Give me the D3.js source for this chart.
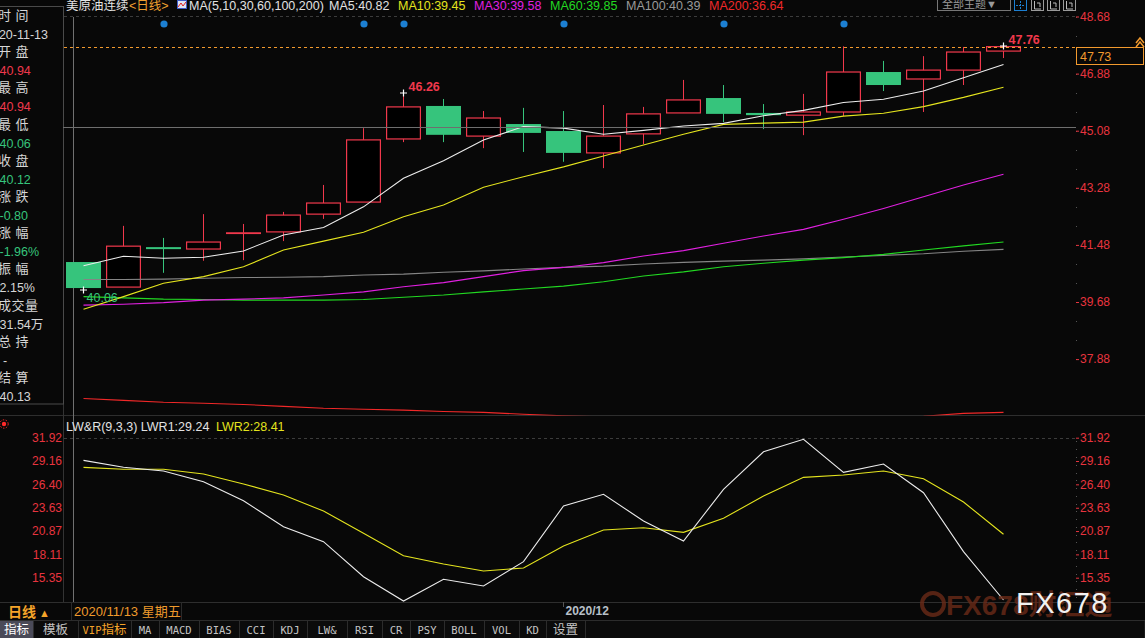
<!DOCTYPE html>
<html>
<head>
<meta charset="utf-8">
<script src="https://cdn.jsdelivr.net/npm/d3@7"></script>
<style>
body{margin:0;background:#080808;overflow:hidden}
svg{display:block;font-family:"Liberation Sans",Arial,"Noto Sans CJK SC",sans-serif}
</style>
</head>
<body>
<svg id="kline" width="1145" height="638"></svg>
<script>
// values (daily bars, 美原油连续)
const dates = ['2020-11-13','2020-11-16','2020-11-17','2020-11-18','2020-11-19','2020-11-20',
    '2020-11-23','2020-11-24','2020-11-25','2020-11-26','2020-11-27','2020-11-30',
    '2020-12-01','2020-12-02','2020-12-03','2020-12-04','2020-12-07','2020-12-08',
    '2020-12-09','2020-12-10','2020-12-11','2020-12-14','2020-12-15','2020-12-16'];
const openPrices  = [40.94,40.15,41.41,41.35,41.84,41.89,42.45,42.83,44.82,45.86,44.91,45.29,
    45.07,44.38,44.98,45.64,46.11,45.64,45.57,45.67,46.93,46.71,46.99,47.59];
const highPrices  = [40.94,42.08,41.70,42.45,42.14,42.52,43.37,45.16,46.26,46.08,45.70,45.80,
    45.70,45.89,45.83,46.68,46.52,45.92,46.24,47.74,47.28,47.43,47.72,47.76];
const lowPrices   = [40.06,40.15,40.60,40.98,41.00,41.60,42.30,42.83,44.72,44.72,44.53,44.41,
    44.10,43.90,44.66,45.64,45.35,45.13,44.94,45.54,46.33,45.67,46.52,47.37];
const closePrices = [40.12,41.44,41.35,41.57,41.86,42.42,42.80,44.79,45.83,44.95,45.48,45.01,
    44.38,44.91,45.61,46.05,45.61,45.57,45.67,46.93,46.52,46.99,47.56,47.73];

const ma5   = [40.82,41.12,41.06,41.09,41.29,41.79,42.03,42.68,43.58,44.13,44.79,45.21,
    45.16,44.97,45.09,45.23,45.31,45.55,45.72,45.97,46.07,46.33,46.75,47.17];
const ma10  = [39.45,39.85,40.27,40.48,40.79,41.32,41.60,41.88,42.37,42.74,43.30,43.63,
    43.94,44.28,44.63,44.97,45.28,45.32,45.35,45.54,45.63,45.84,46.13,46.45];
const ma30  = [39.58,39.61,39.66,39.74,39.77,39.81,39.90,40.00,40.16,40.29,40.48,40.67,
    40.77,40.92,41.13,41.30,41.53,41.76,41.97,42.29,42.63,43.00,43.37,43.71];
const ma60  = [39.85,39.81,39.77,39.76,39.74,39.74,39.74,39.76,39.83,39.90,40.00,40.09,
    40.18,40.32,40.50,40.63,40.79,40.90,41.00,41.08,41.18,41.32,41.45,41.57];
const ma100 = [40.39,40.39,40.40,40.43,40.45,40.46,40.48,40.53,40.56,40.62,40.66,40.72,
    40.77,40.81,40.88,40.93,40.97,41.00,41.04,41.10,41.15,41.20,41.28,41.34];
const ma200 = [36.64,36.58,36.52,36.49,36.45,36.39,36.33,36.30,36.27,36.23,36.20,36.14,
    36.09,36.06,36.04,36.02,36.01,36.01,36.02,36.03,36.05,36.08,36.17,36.20];

const lwr1 = [29.24,28.42,27.98,26.71,24.46,21.39,19.61,15.47,12.59,15.16,14.37,17.25,
    23.84,25.22,22.06,19.69,25.81,30.26,31.73,27.82,28.81,25.41,18.43,12.71];
const lwr2 = [28.41,28.18,28.18,27.62,26.44,25.14,23.24,20.60,17.95,16.97,16.14,16.50,
    19.10,20.99,21.27,20.72,22.38,25.02,27.23,27.50,27.98,27.07,24.31,20.49];

const priceTicks = [48.68, 46.88, 45.08, 43.28, 41.48, 39.68, 37.88];
const lwrTicks = [31.92, 29.16, 26.40, 23.63, 20.87, 18.11, 15.35];
const signalDates = ['2020-11-17','2020-11-24','2020-11-25','2020-12-01','2020-12-07','2020-12-10'];
const markedHighDate = '2020-11-25';
const lastPrice = 47.73;
const crossPrice = 45.20;
const monthTick = '2020-12-01';

const infoLabels = ['时 间','开 盘','最 高','最 低','收 盘','涨 跌','涨 幅','振 幅','成交量','总 持','结 算'];
const infoValues = ['2020-11-13','40.94','40.94','40.06','40.12','-0.80','-1.96%','2.15%','31.54万','-','40.13'];
const tabNames = ['指标','模板','VIP指标','MA','MACD','BIAS','CCI','KDJ','LW&','RSI','CR','PSY','BOLL','VOL','KD','设置'];

const RED = '#f0384c', GREEN = '#36c47c', AXIS_RED = '#e8343f', ORANGE = '#f29a2e';

const kline = {};
kline.tabEdges = [33, 78, 131, 159, 199, 239, 273, 307, 347, 382, 410, 444, 484, 519, 546, 585];

kline.setScale = function(){
    this.x = d3.scaleBand().domain(dates).range([63.5, 1023.5]).paddingInner(0.125).paddingOuter(0.0625);
    this.y = d3.scaleLinear().domain([48.68, 37.88]).range([16.5, 359.1]);
    this.ySub = d3.scaleLinear().domain([31.92, 15.35]).range([437.7, 577.7]);
};
kline.cx = function(d){ return kline.x(d) + kline.x.bandwidth() / 2; };

/**
 * frame lines, boxes, clip paths
 */
kline.drawFrame = function(svg){
    const defs = svg.append('defs');
    defs.append('clipPath').attr('id', 'clip-main').append('rect')
        .attr('x', 63).attr('y', 14).attr('width', 1013).attr('height', 401.5);
    defs.append('clipPath').attr('id', 'clip-sub').append('rect')
        .attr('x', 63).attr('y', 416).attr('width', 1013).attr('height', 186);

    svg.append('rect').attr('width', 1145).attr('height', 638).attr('fill', '#080808');
    // top dashed grid lines
    svg.append('line').attr('x1', 64).attr('x2', 1076).attr('y1', 16.5).attr('y2', 16.5)
        .attr('stroke', '#3c3c3c').attr('stroke-dasharray', '3,3');
    svg.append('line').attr('x1', 64).attr('x2', 1076).attr('y1', 438.5).attr('y2', 438.5)
        .attr('stroke', '#3c3c3c').attr('stroke-dasharray', '3,3');
    // panel separators
    svg.append('line').attr('x1', 0).attr('x2', 1145).attr('y1', 415.5).attr('y2', 415.5).attr('stroke', '#2e2e2e');
    svg.append('line').attr('x1', 0).attr('x2', 1145).attr('y1', 602.5).attr('y2', 602.5).attr('stroke', '#2e2e2e');
    svg.append('line').attr('x1', 63.5).attr('x2', 63.5).attr('y1', 404).attr('y2', 602).attr('stroke', '#333');
    svg.append('rect').attr('x', -1).attr('y', 6.5).attr('width', 64.5).attr('height', 397.5)
        .attr('fill', 'none').attr('stroke', '#4a4a4a');
    // right axis dotted line
    const minor = d3.range(37.88, 48.7, 0.6).map(v => this.y(v));
    const minorSub = d3.range(13.08, 32, 0.92).map(v => this.ySub(v));
    svg.append('g').selectAll('rect').data(minor.concat(minorSub)).enter().append('rect')
        .attr('x', 1076).attr('y', d => Math.round(d)).attr('width', 1).attr('height', 1).attr('fill', '#555');
    // vertical cursor line
    svg.append('line').attr('x1', 73.5).attr('x2', 73.5).attr('y1', 17).attr('y2', 602)
        .attr('stroke', '#707070');
};

kline.setAxes = function(svg){
    const yAxis = d3.axisRight(this.y).tickValues(priceTicks).tickSize(3).tickFormat(d3.format('.2f'));
    const g = svg.append('g').attr('transform', 'translate(1076,0)').call(yAxis);
    const subR = svg.append('g').attr('transform', 'translate(1076,0)')
        .call(d3.axisRight(this.ySub).tickValues(lwrTicks).tickSize(3).tickFormat(d3.format('.2f')));
    const subL = svg.append('g').attr('transform', 'translate(63,0)')
        .call(d3.axisLeft(this.ySub).tickValues(lwrTicks).tickSize(0).tickFormat(d3.format('.2f')));
    [g, subR, subL].forEach(function(a){
        a.select('.domain').remove();
        a.attr('font-family', '"Liberation Sans", Arial, sans-serif').attr('font-size', 12);
        a.selectAll('.tick line').attr('stroke', AXIS_RED);
        a.selectAll('.tick text').attr('fill', AXIS_RED);
    });
    g.selectAll('.tick text').attr('x', 4);
    subR.selectAll('.tick text').attr('x', 4);
    subL.selectAll('.tick text').attr('x', -1);
};

kline.drawCandles = function(svg){
    const self = this;
    const bars = dates.map((d, i) => ({date: d, o: openPrices[i], h: highPrices[i], l: lowPrices[i], c: closePrices[i]}));
    const bw = this.x.bandwidth();
    const grp = svg.append('g').attr('clip-path', 'url(#clip-main)')
        .selectAll('g').data(bars).enter().append('g');
    grp.append('line')
        .attr('x1', d => Math.floor(self.cx(d.date)) + 0.5)
        .attr('x2', d => Math.floor(self.cx(d.date)) + 0.5)
        .attr('y1', d => self.y(d.h)).attr('y2', d => self.y(d.l))
        .attr('stroke', d => d.c >= d.o ? RED : GREEN);
    grp.append('rect')
        .attr('x', d => d.c >= d.o ? self.x(d.date) + 0.6 : self.x(d.date))
        .attr('width', d => d.c >= d.o ? bw - 1.2 : bw)
        .attr('y', d => self.y(Math.max(d.o, d.c)))
        .attr('height', function(d){
            let h = Math.abs(self.y(d.o) - self.y(d.c));
            return d.c >= d.o ? h : Math.max(h, 2);
        })
        .attr('fill', d => d.c >= d.o ? '#000' : GREEN)
        .attr('stroke', d => d.c >= d.o ? RED : 'none')
        .attr('stroke-width', 1.2);
};

kline.drawLines = function(svg){
    const self = this;
    const mainSeries = [
        {values: ma200, color: '#f02828'},
        {values: ma100, color: '#858585'},
        {values: ma60, color: '#22d822'},
        {values: ma30, color: '#e020e0'},
        {values: ma10, color: '#e4e41e'},
        {values: ma5, color: '#ececec'}
    ];
    const line = d3.line().x((v, i) => self.cx(dates[i])).y(v => self.y(v));
    svg.append('g').attr('clip-path', 'url(#clip-main)')
        .selectAll('path').data(mainSeries).enter().append('path')
        .attr('d', s => line(s.values)).attr('fill', 'none')
        .attr('stroke', s => s.color).attr('stroke-width', 1.1);

    const subLine = d3.line().x((v, i) => self.cx(dates[i])).y(v => self.ySub(v));
    svg.append('g').attr('clip-path', 'url(#clip-sub)')
        .selectAll('path').data([{values: lwr2, color: '#e4e41e'}, {values: lwr1, color: '#ececec'}])
        .enter().append('path')
        .attr('d', s => subLine(s.values)).attr('fill', 'none')
        .attr('stroke', s => s.color).attr('stroke-width', 1.1);

    // cursor horizontal + last price
    svg.append('line').attr('x1', 63).attr('x2', 1076)
        .attr('y1', Math.round(this.y(crossPrice)) + 0.5).attr('y2', Math.round(this.y(crossPrice)) + 0.5)
        .attr('stroke', '#6e6e6e');
    const ly = Math.round(this.y(lastPrice)) + 0.5;
    svg.append('line').attr('x1', 64).attr('x2', 1076).attr('y1', ly).attr('y2', ly)
        .attr('stroke', ORANGE).attr('stroke-dasharray', '3,3');
    svg.append('rect').attr('x', 1076.5).attr('y', ly).attr('width', 67).attr('height', 17)
        .attr('fill', '#080808').attr('stroke', ORANGE);
    svg.append('text').attr('x', 1080).attr('y', ly + 13).attr('fill', ORANGE)
        .attr('font-size', 12.5).text(lastPrice.toFixed(2));
    svg.append('path').attr('d', 'M1136,43 L1140,38 L1144,43 M1136,47 L1140,42 L1144,47')
        .attr('stroke', ORANGE).attr('fill', 'none').attr('stroke-width', 1.5);
};

kline.cross = function(svg, x, y){
    svg.append('path').attr('d', `M${x - 3.5},${y}H${x + 3.5}M${x},${y - 3.5}V${y + 3.5}`)
        .attr('stroke', '#fff').attr('stroke-width', 1.2);
};

kline.drawMarks = function(svg){
    const self = this;
    const hiIdx = d3.maxIndex(highPrices), loIdx = d3.minIndex(lowPrices);
    const mk = dates.indexOf(markedHighDate);
    [mk, hiIdx].forEach(function(i){
        const x = Math.floor(self.cx(dates[i])) + 0.5, y = Math.round(self.y(highPrices[i]));
        self.cross(svg, x, y);
        svg.append('text').attr('x', x + 5).attr('y', y - 2).attr('fill', RED)
            .attr('font-size', 12.5).attr('font-weight', 'bold').text(highPrices[i].toFixed(2));
    });
    const lx = Math.floor(self.cx(dates[loIdx])) + 0.5, lyy = Math.round(self.y(lowPrices[loIdx]));
    self.cross(svg, lx, lyy);
    svg.append('text').attr('x', lx + 3).attr('y', lyy + 12).attr('fill', GREEN)
        .attr('font-size', 12.5).text(lowPrices[loIdx].toFixed(2));

    svg.append('g').selectAll('circle').data(signalDates).enter().append('circle')
        .attr('cx', d => self.cx(d) + 0.5).attr('cy', 24).attr('r', 3.6).attr('fill', '#1c7fd2');
};

kline.drawTexts = function(svg){
    // header
    const head = [
        {t: '美原油连续', x: 66, c: '#e2e2e2'},
        {t: '<日线>', x: 129, c: '#f0a030'},
        {t: 'MA(5,10,30,60,100,200)', x: 189, c: '#e2e2e2'},
        {t: 'MA5:' + ma5[0].toFixed(2), x: 329, c: '#e2e2e2'},
        {t: 'MA10:' + ma10[0].toFixed(2), x: 398, c: '#e4e41e'},
        {t: 'MA30:' + ma30[0].toFixed(2), x: 474, c: '#e020e0'},
        {t: 'MA60:' + ma60[0].toFixed(2), x: 550, c: '#22d822'},
        {t: 'MA100:' + ma100[0].toFixed(2), x: 626, c: '#9a9a9a'},
        {t: 'MA200:' + ma200[0].toFixed(2), x: 709, c: '#f02828'}
    ];
    svg.append('g').selectAll('text').data(head).enter().append('text')
        .attr('x', d => d.x).attr('y', 10).attr('fill', d => d.c).attr('font-size', 12.5).text(d => d.t);
    svg.append('rect').attr('x', 177.5).attr('y', 0.5).attr('width', 9).attr('height', 8)
        .attr('fill', '#dfe4f4').attr('stroke', '#3d5cc8');
    svg.append('path').attr('d', 'M178,7 L181,3 L183,6 L186,2').attr('stroke', '#e02020').attr('fill', 'none');

    // theme box + icons
    svg.append('rect').attr('x', 937.5).attr('y', -1.5).attr('width', 73).attr('height', 12)
        .attr('fill', 'none').attr('stroke', '#777');
    svg.append('text').attr('x', 942).attr('y', 8).attr('fill', '#9a9a9a').attr('font-size', 11)
        .text('全部主题▼');
    [1014, 1031, 1047, 1063].forEach(function(x, i){
        svg.append('rect').attr('x', x + 0.5).attr('y', -1.5).attr('width', 12).attr('height', 12)
            .attr('fill', 'none').attr('stroke', i === 0 ? '#1c7fd2' : '#9a9a9a');
        svg.append('path').attr('d', i === 0 ? `M${x + 6.5},1V9M${x + 2},5.5H${x + 11}` : `M${x + 3.5},1V9H${x + 10}M${x + 6},3H${x + 9}V7`)
            .attr('stroke', i === 0 ? '#1c7fd2' : '#bbb').attr('fill', 'none').attr('stroke-dasharray', i === 0 ? '2,1' : null);
    });

    // info panel
    const info = svg.append('g').attr('font-size', 13);
    infoLabels.forEach(function(t, k){
        info.append('text').attr('x', -2).attr('y', 20 + 36.2 * k).attr('fill', '#d6d6d6')
            .attr('letter-spacing', 0.5).text(t);
    });
    const valColor = ['#d6d6d6', RED, RED, GREEN, GREEN, GREEN, GREEN, '#d6d6d6', '#d6d6d6', '#d6d6d6', '#d6d6d6'];
    infoValues.forEach(function(t, k){
        info.append('text').attr('x', k === 0 ? -15 : (k === 9 ? 3 : -0.5)).attr('y', 39 + 36.2 * k)
            .attr('fill', valColor[k]).attr('font-size', 12.5).text(t);
    });

    // lower panel header
    const sub = svg.append('text').attr('x', 66).attr('y', 431).attr('font-size', 12.5);
    sub.append('tspan').attr('fill', '#e2e2e2').text('LW&R(9,3,3) LWR1:' + lwr1[0].toFixed(2));
    sub.append('tspan').attr('x', 216).attr('fill', '#e4e41e').text('LWR2:' + lwr2[0].toFixed(2));
    svg.append('circle').attr('cx', 4).attr('cy', 424).attr('r', 2.2).attr('fill', '#ff2a2a');
    svg.append('circle').attr('cx', 4).attr('cy', 424).attr('r', 4.2).attr('fill', 'none')
        .attr('stroke', '#ff2a2a').attr('stroke-dasharray', '1.5,1.5');

    // date bar
    svg.append('text').attr('x', 8).attr('y', 617).attr('fill', '#f5a42a').attr('font-size', 14)
        .attr('font-weight', 'bold').text('日线');
    svg.append('text').attr('x', 39).attr('y', 617).attr('fill', '#f5a42a').attr('font-size', 11).text('▲');
    svg.append('rect').attr('x', 71.5).attr('y', 602.5).attr('width', 110).attr('height', 18)
        .attr('fill', '#080808').attr('stroke', '#2a2a2a');
    svg.append('text').attr('x', 74).attr('y', 616).attr('fill', '#ef9a2c').attr('font-size', 13)
        .text('2020/11/13 星期五');
    const mx = Math.floor(this.cx(monthTick)) + 0.5;
    svg.append('line').attr('x1', mx).attr('x2', mx).attr('y1', 602).attr('y2', 607).attr('stroke', '#555');
    svg.append('text').attr('x', mx + 2).attr('y', 615).attr('fill', '#b8c0c8').attr('font-size', 12)
        .attr('font-weight', 'bold').text('2020/12');

    // tab bar
    svg.append('rect').attr('x', 0).attr('y', 620.5).attr('width', 1145).attr('height', 18)
        .attr('fill', '#0b0b0b').attr('stroke', '#2c2c2c');
    svg.append('rect').attr('x', 0).attr('y', 621).attr('width', 33).attr('height', 17).attr('fill', '#4a4a58');
    const edges = this.tabEdges;
    tabNames.forEach(function(t, i){
        const left = i === 0 ? 0 : edges[i - 1], right = edges[i];
        svg.append('line').attr('x1', right + 0.5).attr('x2', right + 0.5).attr('y1', 621).attr('y2', 638)
            .attr('stroke', '#2c2c2c');
        const txt = svg.append('text').attr('x', (left + right) / 2).attr('y', 634).attr('text-anchor', 'middle')
            .attr('fill', i === 0 ? '#ffffff' : (i === 2 ? '#f5a42a' : '#c4c4c4'));
        t.match(/[\x00-\x7f]+|[^\x00-\x7f]+/g).forEach(function(run){
            const ascii = /^[\x00-\x7f]+$/.test(run);
            txt.append('tspan').attr('font-family', ascii ? '"DejaVu Sans Mono", monospace' : '"Noto Sans CJK SC", sans-serif')
                .attr('font-size', ascii ? 10.5 : 12.5).text(run);
        });
    });

    // watermark
    svg.append('circle').attr('cx', 933).attr('cy', 604).attr('r', 11).attr('fill', 'none')
        .attr('stroke', '#6a2a18').attr('stroke-width', 4).attr('opacity', 0.8);
    svg.append('text').attr('x', 946).attr('y', 615).attr('fill', '#6a2a18').attr('opacity', 0.8)
        .attr('font-size', 28).attr('font-weight', 'bold').text('FX678财汇通');
    svg.append('text').attr('x', 1016).attr('y', 613).attr('fill', '#f2f2f2')
        .attr('font-size', 29).attr('letter-spacing', 1.5).text('FX678');
};

kline.init = function(){
    "use strict";
    const svg = d3.select('#kline');
    this.setScale();
    this.drawFrame(svg);
    this.setAxes(svg);
    this.drawCandles(svg);
    this.drawLines(svg);
    this.drawMarks(svg);
    this.drawTexts(svg);
};

kline.init();
</script>
</body>
</html>
